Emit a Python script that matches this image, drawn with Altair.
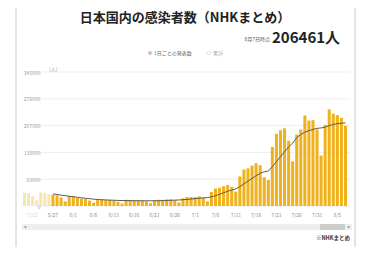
import altair as alt
import pandas as pd

# ---- data ----
dates = [d.strftime("%-m/%-d") for d in pd.date_range("2022-05-20", "2022-08-07")]
daily = [34000, 33000, 25000, 15000, 35000, 34000, 30000, 29000, 27000, 22000,
         12000, 26000, 25000, 21000, 19000, 18000, 14000, 8000, 18000, 17000,
         15000, 15000, 14000, 11000, 6000, 16000, 15000, 14000, 14000, 14000,
         12000, 7000, 15000, 16000, 16000, 17000, 17000, 15000, 9000, 20000,
         23000, 23000, 23000, 25000, 21000, 12000, 36000, 45000, 47000, 51000,
         54000, 49000, 37000, 76000, 94000, 97000, 104000, 110000, 105000, 74000,
         67000, 152000, 186000, 195000, 200000, 168000, 115000, 184000, 197000, 233000,
         220000, 221000, 197000, 130000, 209000, 249000, 238000, 234000, 227000, 206461]
avg7 = [None] * 7 + [
    31000, 29500, 28000, 26500, 25000, 24000, 22500, 21000, 20000, 19000,
    17500, 16800, 16200, 15600, 15200, 14800, 14400, 14000, 13900, 13800,
    13700, 13600, 13500, 13500, 13400, 13400, 13600, 13900, 14300, 14700,
    15100, 15500, 16200, 17000, 18000, 19000, 20000, 21000, 21500, 23500,
    26500, 30000, 34000, 38000, 41000, 44000, 50000, 57000, 64000, 71000,
    78000, 84000, 88000, 90000, 101000, 114000, 127000, 140000, 152000, 162000,
    176000, 184000, 190000, 194000, 197000, 200000, 201000, 203000, 207000, 210000,
    212000, 213000, 214000]
faded_dates = ["5/20", "5/21", "5/22", "5/23", "5/24", "5/25", "5/26"]
x_labels = ["5/22", "5/27", "6/1", "6/6", "6/11", "6/16", "6/21", "6/26", "7/1",
            "7/6", "7/11", "7/16", "7/21", "7/26", "7/31", "8/5"]
y_ticks = [0, 69000, 138000, 207000, 276000, 345000]

title_text = "日本国内の感染者数（NHKまとめ）"
asof_text = "8月7日時点"
total_text = "206461人"
legend_on = "1日ごとの発表数"
legend_off = "累計"
unit_text = "(人)"
source_text = "※NHKまとめ"

df = pd.DataFrame({"date": dates, "value": daily, "avg": avg7})
df["faded"] = df["date"].isin(faded_dates)
ticks_df = pd.DataFrame({"t": y_ticks})
one = pd.DataFrame({"a": [0]})

FONT = "Noto Sans CJK JP"
W, H = 324, 134

xaxis = alt.Axis(values=x_labels, labelAngle=0, domain=False, ticks=False, grid=False,
                 labelFontSize=5, labelPadding=6, labelFont=FONT, labelOverlap=False,
                 labelColor={"condition": {"test": "datum.value == '5/22'", "value": "#dcdcdc"},
                             "value": "#8a8a8a"})
yaxis = alt.Axis(values=y_ticks, grid=False, domain=False, ticks=False, format="d",
                 labelFontSize=5, labelColor="#9a9a9a", labelFont=FONT,
                 labelOverlap=False, labelFlush=False, offset=-19, labelPadding=2)
xscale = alt.Scale(paddingInner=0.25, paddingOuter=0)
yscale = alt.Scale(domain=[0, 345000], nice=False)

frame = alt.Chart(one).mark_rect(fillOpacity=0, stroke="#c8c8c8", strokeWidth=1).encode(
    x=alt.value(-7), x2=alt.value(332), y=alt.value(-68), y2=alt.value(200))

grid = alt.Chart(ticks_df).mark_rule(color="#e8e8e8", strokeWidth=0.8).encode(
    y=alt.Y("t:Q", scale=yscale, axis=yaxis, title=None), x=alt.value(19), x2=alt.value(327))

bars = alt.Chart(df).mark_bar().encode(
    x=alt.X("date:O", sort=None, title=None, scale=xscale, axis=xaxis),
    y=alt.Y("value:Q", scale=yscale, title=None, axis=yaxis),
    color=alt.condition("datum.faded", alt.value("#f8e6b0"), alt.value("#f0b21c")),
)

line = alt.Chart(df).mark_line(color="#5c5a50", strokeWidth=1).encode(
    x=alt.X("date:O", sort=None, title=None, scale=xscale, axis=xaxis),
    y=alt.Y("avg:Q", scale=yscale, title=None, axis=yaxis))

def txt(s, x, y, size, color="#333", weight="normal", align="left", baseline="middle"):
    return alt.Chart(one).mark_text(fontSize=size, font=FONT, color=color, fontWeight=weight,
                                    align=align, baseline=baseline).encode(
        x=alt.value(x), y=alt.value(y), text=alt.value(s))

title = txt(title_text, 162, -54, 13, "#222", "bold", "center")
asof = txt(asof_text, 247, -31, 5, "#555", "normal", "right", "alphabetic")
total = txt(total_text, 249, -29, 15, "#222", "bold", "left", "alphabetic")
leg1 = txt(legend_on, 131, -19, 5, "#666")
leg2 = txt(legend_off, 190, -19, 5, "#aaa")
ring1 = alt.Chart(one).mark_point(shape="circle", size=14, color="#aaa", strokeWidth=0.7).encode(
    x=alt.value(127), y=alt.value(-19))
dot1 = alt.Chart(one).mark_point(shape="circle", size=3, filled=True, color="#444").encode(
    x=alt.value(127), y=alt.value(-19))
ring2 = alt.Chart(one).mark_point(shape="circle", size=14, color="#ccc", strokeWidth=0.7).encode(
    x=alt.value(186), y=alt.value(-19))
unit = txt(unit_text, 26, -3, 5, "#999")

scroll = alt.Chart(one).mark_rect(color="#eeeeee").encode(
    x=alt.value(-1), x2=alt.value(329), y=alt.value(152), y2=alt.value(158))
thumb = alt.Chart(one).mark_rect(color="#cccccc").encode(
    x=alt.value(297), x2=alt.value(322), y=alt.value(152), y2=alt.value(158))
arrow_l = txt("◂", 1, 155, 4, "#666")
arrow_r = txt("▸", 327, 155, 4, "#666", align="right")
source = txt(source_text, 327, 166, 5.5, "#333", "bold", "right")

chart = alt.layer(
    frame, grid, bars, line, title, asof, total, ring1, dot1, ring2, leg1, leg2, unit,
    scroll, thumb, arrow_l, arrow_r, source
).properties(
    width=W, height=H,
    autosize=alt.AutoSizeParams(type="none"),
    padding={"left": 15, "top": 64, "right": 18, "bottom": 41},
).configure_view(stroke=None)

chart.save("out.html", embed_options={"renderer": "svg", "actions": False})
